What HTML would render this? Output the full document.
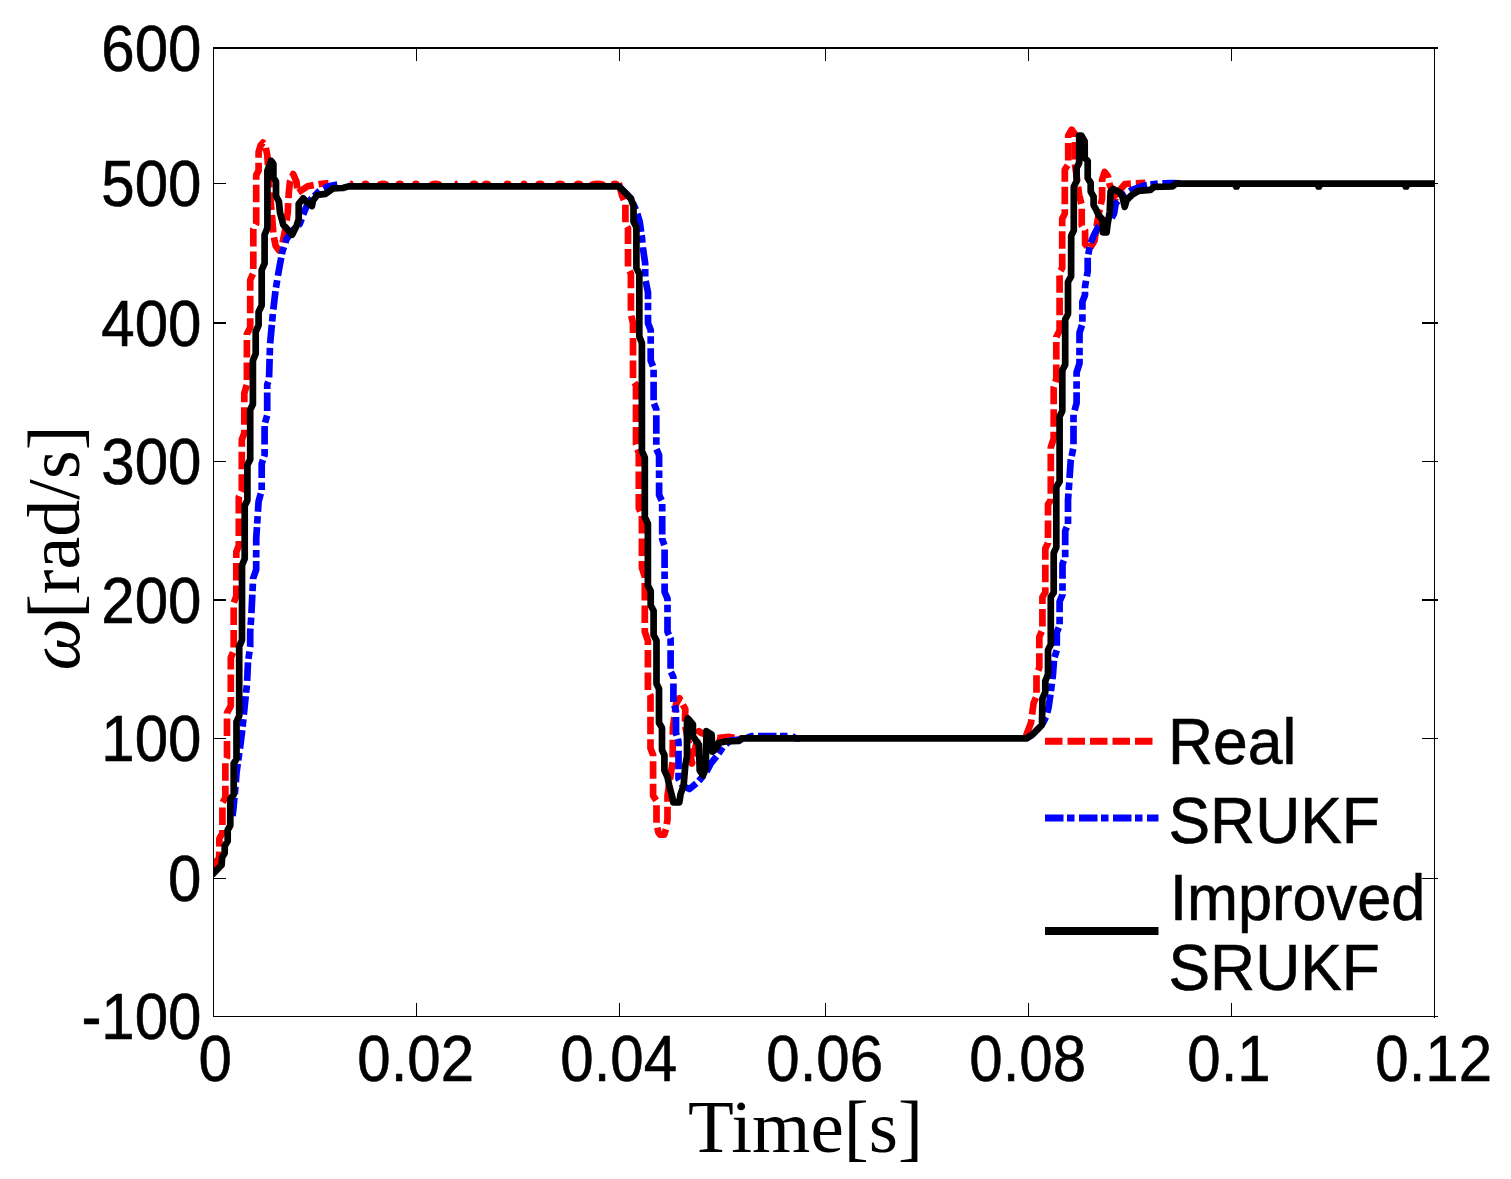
<!DOCTYPE html>
<html><head><meta charset="utf-8"><title>Speed estimation</title>
<style>html,body{margin:0;padding:0;background:#fff}svg{display:block}.sans{font-family:"Liberation Sans",Arial,sans-serif;font-size:64px;fill:#000;stroke:#000;stroke-width:0.6px}.serif{font-family:"Liberation Serif","Times New Roman",serif;font-size:74px;fill:#000}</style></head><body>
<svg width="1511" height="1179" viewBox="0 0 1511 1179">
<rect x="0" y="0" width="1511" height="1179" fill="#ffffff"/>
<defs><clipPath id="ax"><rect x="213.5" y="49" width="1221" height="967"/></clipPath></defs>
<g fill="none" stroke-linejoin="round" stroke-linecap="butt" stroke-width="6.7" clip-path="url(#ax)">
<polyline stroke="#ff0000" stroke-dasharray="17.5 5" points="212.0,866.5 219.2,858.0 219.4,838.5 222.4,833.0 222.4,803.0 225.4,797.5 225.3,761.3 227.0,757.0 227.0,712.8 230.8,706.0 230.8,657.6 233.7,651.0 233.7,602.8 236.3,596.2 236.3,552.0 238.8,545.5 238.8,497.0 241.8,490.3 241.8,439.6 244.3,433.0 244.3,393.2 246.9,384.4 246.9,334.0 250.2,327.4 250.2,280.0 253.3,273.0 253.3,229.0 256.2,223.7 256.2,175.2 258.6,170.7 258.6,152.0 260.6,145.5 263.0,142.6 265.4,145.5 267.3,155.3 268.5,175.0 270.5,200.0 272.3,219.3 273.4,234.7 275.6,245.7 278.9,250.2 282.2,244.6 285.5,228.0 287.7,212.7 288.8,192.8 289.9,181.8 293.2,174.0 296.5,181.8 297.7,192.8 302.0,190.0 307.6,186.2 319.7,184.0 328.5,183.2"/>
<polyline stroke="#ff0000" stroke-dasharray="17.5 5" points="618.8,183.2 622.0,195.3 625.4,204.0 625.4,224.0 628.0,228.4 628.0,268.0 630.9,273.6 630.9,314.4 633.0,323.2 633.0,380.6 636.0,385.0 636.0,444.3 638.8,453.0 638.8,508.2 641.9,514.9 641.9,567.8 644.8,576.6 644.8,631.8 647.9,640.6 647.9,690.5 650.5,695.6 650.5,748.2 653.1,755.0 653.1,795.7 656.5,800.8 656.5,822.9 658.2,832.0 659.8,834.6 664.2,834.6 666.0,829.0 667.5,819.5 667.5,795.7 672.6,761.8 672.9,727.9 676.0,704.0 679.4,698.2 685.3,709.2 684.9,724.5 689.0,745.0 692.0,763.5 696.0,745.0 698.9,731.2 701.4,733.0 717.5,738.0 728.6,736.8 735.0,738.0 742.0,738.4"/>
<polyline stroke="#ff0000" stroke-dasharray="17.5 5" points="1026.0,736.0 1027.6,731.6 1031.0,722.8 1033.6,703.0 1036.5,696.3 1036.5,674.3 1039.3,667.7 1039.3,636.8 1042.4,630.0 1042.4,597.0 1045.3,592.7 1045.3,548.5 1048.0,543.0 1048.0,504.4 1050.8,500.0 1050.8,447.4 1053.7,438.5 1053.7,387.8 1056.3,379.0 1056.3,337.0 1059.6,330.4 1059.6,277.5 1059.2,273.0 1062.2,268.0 1062.2,218.7 1064.8,213.7 1064.8,169.6 1068.2,164.5 1068.2,135.6 1071.6,129.7 1075.0,134.0 1075.0,164.5 1079.2,195.0 1081.7,205.2 1081.7,225.5 1085.1,230.6 1085.1,244.2 1089.4,249.3 1094.5,240.8 1097.0,223.8 1099.5,210.0 1102.1,198.4 1102.1,179.7 1104.6,172.0 1108.0,176.3 1109.7,184.8 1115.7,198.4 1120.0,190.0 1125.0,184.0 1145.4,182.8"/>
<ellipse cx="351.5" cy="184" rx="2.0" ry="3.6" fill="#ff0000" stroke="none"/>
<ellipse cx="365.5" cy="184" rx="4.0" ry="3.6" fill="#ff0000" stroke="none"/>
<ellipse cx="383.0" cy="184" rx="6.5" ry="3.6" fill="#ff0000" stroke="none"/>
<ellipse cx="399.8" cy="184" rx="4.2" ry="3.6" fill="#ff0000" stroke="none"/>
<ellipse cx="415.9" cy="184" rx="3.9" ry="3.6" fill="#ff0000" stroke="none"/>
<ellipse cx="435.5" cy="184" rx="7.0" ry="3.6" fill="#ff0000" stroke="none"/>
<ellipse cx="456.2" cy="184" rx="1.8" ry="3.6" fill="#ff0000" stroke="none"/>
<ellipse cx="474.0" cy="184" rx="4.5" ry="3.6" fill="#ff0000" stroke="none"/>
<ellipse cx="486.5" cy="184" rx="5.0" ry="3.6" fill="#ff0000" stroke="none"/>
<ellipse cx="507.5" cy="184" rx="4.0" ry="3.6" fill="#ff0000" stroke="none"/>
<ellipse cx="524.0" cy="184" rx="3.5" ry="3.6" fill="#ff0000" stroke="none"/>
<ellipse cx="540.0" cy="184" rx="5.0" ry="3.6" fill="#ff0000" stroke="none"/>
<ellipse cx="560.0" cy="184" rx="5.5" ry="3.6" fill="#ff0000" stroke="none"/>
<ellipse cx="578.5" cy="184" rx="5.0" ry="3.6" fill="#ff0000" stroke="none"/>
<ellipse cx="597.5" cy="184" rx="9.0" ry="3.6" fill="#ff0000" stroke="none"/>
<ellipse cx="615.0" cy="184" rx="4.5" ry="3.6" fill="#ff0000" stroke="none"/>
<polyline stroke="#0000ff" stroke-dasharray="18.5 3.5 7.5 4.5" points="232.5,816.0 233.5,808.0 234.5,797.0 235.7,784.0 236.6,772.0 240.3,746.0 242.5,728.0 244.7,706.0 247.0,684.0 248.0,662.0 250.2,646.6 250.2,631.5 251.3,616.0 253.1,578.5 256.2,569.7 256.2,538.8 258.6,501.3 261.7,490.3 261.7,463.8 264.6,455.0 264.6,424.0 267.2,415.3 267.2,384.4 269.0,380.0 270.0,345.0 273.0,312.0 275.6,289.9 278.9,270.0 282.2,252.4 286.6,239.0 293.0,230.0 299.9,223.7 304.3,211.6 308.7,201.6 319.7,190.6 328.5,186.2 337.4,184.6"/>
<polyline stroke="#0000ff" stroke-dasharray="18.5 3.5 7.5 4.5" points="618.8,186.0 630.9,198.6 636.4,210.7 639.7,221.8 641.9,237.2 643.0,248.2 645.2,263.7 645.2,279.0 648.0,292.4 648.0,323.2 650.7,329.9 650.7,360.7 653.6,367.4 653.6,402.7 656.3,409.3 656.3,448.7 659.1,455.3 659.1,495.0 662.2,501.6 662.2,539.0 664.6,545.7 664.6,592.0 667.5,598.7 667.5,631.8 670.6,638.4 670.6,671.5 673.4,677.0 673.4,702.4 676.0,710.9 676.0,733.0 678.5,741.4 678.5,778.7 683.0,786.0 689.5,789.0 698.0,782.0 706.5,772.0 710.8,763.5 717.5,755.0 723.5,746.5 730.3,740.5 745.0,738.8 751.0,736.2 792.0,736.2 796.0,738.4 800.0,738.4"/>
<polyline stroke="#0000ff" stroke-dasharray="18.5 3.5 7.5 4.5" points="1026.5,738.4 1032.0,735.0 1042.0,725.0 1046.4,716.2 1048.6,707.4 1050.8,692.0 1053.0,674.3 1054.1,658.8 1056.8,650.0 1056.8,632.4 1059.6,625.7 1059.6,601.5 1062.5,594.9 1062.5,564.0 1065.2,557.4 1065.2,530.9 1068.0,524.3 1068.0,500.0 1069.1,484.9 1070.7,460.6 1073.5,447.4 1073.5,414.3 1076.6,403.2 1076.6,372.4 1079.5,363.5 1079.5,332.7 1082.4,323.8 1082.4,301.8 1085.0,295.0 1085.0,286.6 1087.7,271.3 1087.7,257.8 1090.2,244.2 1093.6,235.7 1097.9,227.2 1104.0,222.0 1111.4,218.7 1114.0,213.7 1115.7,203.5 1122.0,196.0 1131.8,189.9 1145.4,185.2 1159.0,183.4 1172.5,183.0 1180.0,183.4"/>
<polyline stroke="#000000" points="212.0,875.0 221.6,865.0 222.1,857.5 224.7,853.0 224.7,846.0 227.7,841.0 227.7,830.0 230.3,825.5 230.3,799.0 233.7,794.4 233.7,763.5 236.5,759.0 236.5,721.6 239.2,716.0 239.2,646.6 242.0,640.0 242.0,565.3 244.7,558.7 244.7,505.7 247.4,500.2 247.4,465.0 250.2,459.4 250.2,409.8 252.9,404.3 252.9,360.5 255.7,353.8 255.7,331.8 258.6,325.2 258.6,312.0 261.7,305.3 261.7,270.0 264.6,263.4 264.6,234.7 267.4,228.0 267.4,170.7 271.2,160.8 273.4,164.0 273.4,177.4 276.0,181.8 276.0,196.0 278.9,201.6 280.0,212.6 283.3,224.8 292.1,234.7 296.5,225.9 298.7,219.3 298.7,203.8 303.2,198.3 307.6,202.7 312.0,206.0 313.0,200.5 317.5,195.0 325.2,193.9 333.0,188.4 342.9,188.0 348.4,186.4 618.8,186.4 630.9,198.6 633.5,206.3 633.5,221.8 636.4,227.3 636.4,268.0 639.3,273.6 639.3,336.5 641.9,343.0 641.9,450.9 644.8,457.5 644.8,517.0 647.9,523.7 647.9,585.5 650.7,591.0 650.7,605.3 653.6,610.8 653.6,635.0 656.5,640.6 656.5,683.7 659.0,688.8 659.0,722.8 662.0,727.9 662.0,750.0 664.4,755.0 664.4,770.3 667.5,777.0 669.2,785.5 672.0,796.0 673.3,802.3 679.3,802.3 680.6,794.0 683.6,785.5 685.3,765.2 687.0,756.7 687.0,721.0 687.9,718.5 692.9,724.5 692.9,736.3 698.9,744.8 699.7,770.3 703.1,775.4 705.7,768.6 706.5,731.2 711.6,734.6 712.5,751.6 716.7,748.2 718.4,743.1 725.2,741.4 738.7,741.0 742.1,738.4 1026.5,738.4 1032.0,735.0 1042.0,725.0 1042.4,698.5 1045.3,692.0 1045.3,681.0 1048.0,674.3 1048.0,650.0 1050.8,644.5 1050.8,597.0 1053.7,592.7 1053.7,553.0 1056.3,547.4 1056.3,487.0 1059.6,481.6 1059.6,416.5 1062.3,411.0 1062.3,370.2 1065.2,364.6 1065.2,319.4 1068.0,313.9 1068.0,281.9 1071.1,276.4 1071.2,235.7 1073.8,230.6 1073.8,186.5 1076.6,181.4 1076.6,167.9 1079.2,162.8 1079.2,135.6 1081.4,135.6 1084.7,141.5 1084.7,157.7 1087.7,161.0 1087.7,178.0 1090.7,183.0 1090.7,191.6 1093.6,196.7 1093.6,205.2 1096.5,210.3 1098.7,215.4 1102.6,219.5 1102.8,232.3 1106.6,232.3 1107.4,225.5 1109.7,212.0 1110.6,191.6 1113.1,189.0 1119.9,192.5 1122.5,196.7 1124.7,206.9 1126.7,200.0 1131.8,195.0 1138.6,190.8 1150.4,189.9 1153.8,186.9 1172.5,186.5 1175.9,183.6 1436.0,183.6"/>
<polygon fill="#000" stroke="none" points="1231.9,186 1240.9,186 1238.6000000000001,189.8 1234.2,189.8"/>
<polygon fill="#000" stroke="none" points="1314.3,186 1323.3,186 1321.0,189.8 1316.6,189.8"/>
<polygon fill="#000" stroke="none" points="1401.5,186 1410.5,186 1408.2,189.8 1403.8,189.8"/>
</g>
<g fill="#000" shape-rendering="crispEdges">
<rect x="213" y="47" width="1225" height="2"/>
<rect x="213" y="1016" width="1225" height="1"/>
<rect x="213" y="47" width="1" height="970"/>
<rect x="1434" y="47" width="1" height="971"/>
<rect x="213" y="183" width="13" height="1"/>
<rect x="1422" y="183" width="16" height="1"/>
<rect x="213" y="322" width="13" height="2"/>
<rect x="1422" y="322" width="16" height="2"/>
<rect x="213" y="461" width="13" height="1"/>
<rect x="1422" y="461" width="16" height="1"/>
<rect x="213" y="599" width="13" height="2"/>
<rect x="1422" y="599" width="16" height="2"/>
<rect x="213" y="738" width="13" height="1"/>
<rect x="1422" y="738" width="16" height="1"/>
<rect x="213" y="878" width="13" height="1"/>
<rect x="1422" y="878" width="16" height="1"/>
<rect x="416" y="1003" width="1" height="13"/>
<rect x="416" y="49" width="1" height="12"/>
<rect x="619" y="1003" width="1" height="13"/>
<rect x="619" y="49" width="1" height="12"/>
<rect x="825" y="1003" width="1" height="13"/>
<rect x="825" y="49" width="1" height="12"/>
<rect x="1028" y="1003" width="1" height="13"/>
<rect x="1028" y="49" width="1" height="12"/>
<rect x="1231" y="1003" width="1" height="13"/>
<rect x="1231" y="49" width="1" height="12"/>
</g>
<g class="sans">
<text transform="translate(201.5,70.6) scale(0.938,1)" text-anchor="end">600</text>
<text transform="translate(201.5,205.8) scale(0.938,1)" text-anchor="end">500</text>
<text transform="translate(201.5,345.6) scale(0.938,1)" text-anchor="end">400</text>
<text transform="translate(201.5,483.9) scale(0.938,1)" text-anchor="end">300</text>
<text transform="translate(201.5,622.6) scale(0.938,1)" text-anchor="end">200</text>
<text transform="translate(201.5,761.1) scale(0.938,1)" text-anchor="end">100</text>
<text transform="translate(201.5,900.6) scale(0.938,1)" text-anchor="end">0</text>
<text transform="translate(201.5,1038.6) scale(0.938,1)" text-anchor="end">-100</text>
<text transform="translate(215.1,1081.2) scale(0.938,1)" text-anchor="middle">0</text>
<text transform="translate(415.7,1081.2) scale(0.938,1)" text-anchor="middle">0.02</text>
<text transform="translate(618.7,1081.2) scale(0.938,1)" text-anchor="middle">0.04</text>
<text transform="translate(824.7,1081.2) scale(0.938,1)" text-anchor="middle">0.06</text>
<text transform="translate(1027.7,1081.2) scale(0.938,1)" text-anchor="middle">0.08</text>
<text transform="translate(1229.0,1081.2) scale(0.938,1)" text-anchor="middle">0.1</text>
<text transform="translate(1433.7,1081.2) scale(0.938,1)" text-anchor="middle">0.12</text>
</g>
<text class="serif" style="font-size:75px" x="805.5" y="1151.8" text-anchor="middle">Time[s]</text>
<text class="serif" transform="translate(78.5,670.5) rotate(-90)" font-style="italic">ω</text>
<text class="serif" transform="translate(78.5,618.8) rotate(-90)">[rad/s]</text>
<g fill="none" stroke-width="7">
<line x1="1045" y1="741.3" x2="1153" y2="741.3" stroke="#ff0000" stroke-dasharray="17.5 5"/>
<line x1="1045" y1="818" x2="1158.5" y2="818" stroke="#0000ff" stroke-dasharray="18.5 3.5 7.5 4.5"/>
<line x1="1045" y1="931" x2="1158.5" y2="931" stroke="#000000" stroke-width="8"/>
</g>
<g class="sans">
<text transform="translate(1168,764.2) scale(0.975,1)">Real</text>
<text transform="translate(1168.5,842.5) scale(0.975,1)">SRUKF</text>
<text transform="translate(1170,920.2) scale(0.957,1)">Improved</text>
<text transform="translate(1168.5,990) scale(0.975,1)">SRUKF</text>
</g>
</svg></body></html>
